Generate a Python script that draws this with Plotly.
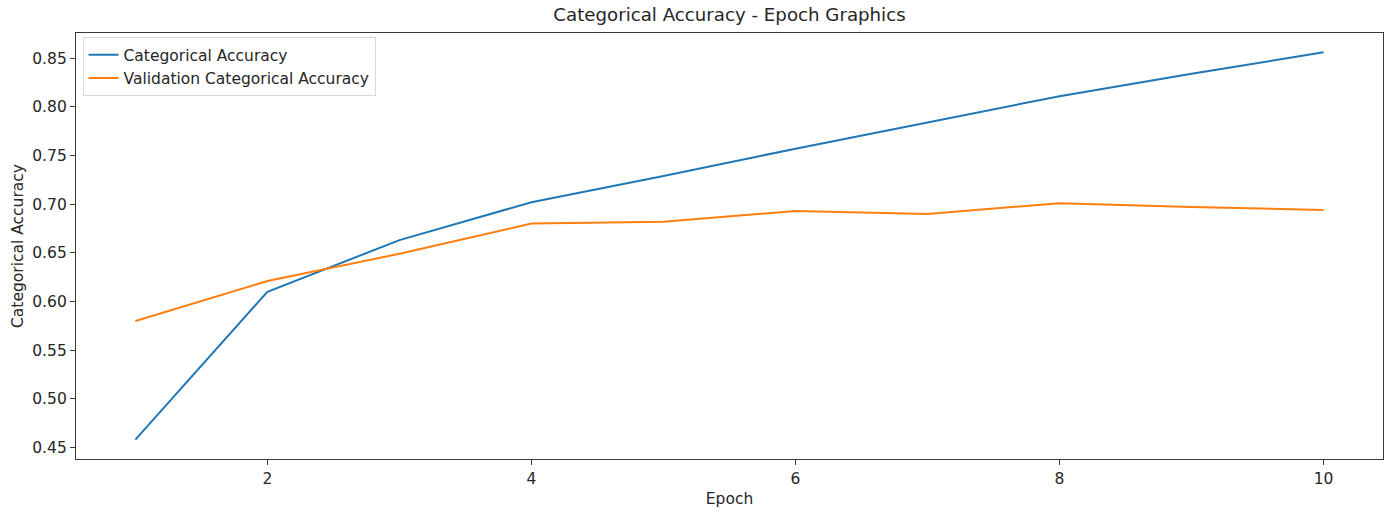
import plotly.graph_objects as go

# Training history per epoch
epochs = [1, 2, 3, 4, 5, 6, 7, 8, 9, 10]
categorical_accuracy = [0.458, 0.610, 0.663, 0.702, 0.729, 0.757, 0.784, 0.811, 0.834, 0.856]
val_categorical_accuracy = [0.580, 0.621, 0.649, 0.680, 0.682, 0.693, 0.690, 0.701, 0.697, 0.694]

x_ticks = [2, 4, 6, 8, 10]
y_ticks = [0.45, 0.50, 0.55, 0.60, 0.65, 0.70, 0.75, 0.80, 0.85]

FONT = "DejaVu Sans"
TEXT = "#262626"
SPINE = "#3a3a3a"
BASE = 15.5

fig = go.Figure()
fig.add_trace(go.Scatter(
    x=epochs, y=categorical_accuracy, mode="lines",
    name="Categorical Accuracy",
    line=dict(color="#1f77b4", width=2),
))
fig.add_trace(go.Scatter(
    x=epochs, y=val_categorical_accuracy, mode="lines",
    name="Validation Categorical Accuracy",
    line=dict(color="#ff7f0e", width=2),
))

# 5% padding around the data, like matplotlib's default margins
all_y = categorical_accuracy + val_categorical_accuracy
y_lo, y_hi = min(all_y), max(all_y)
y_pad = 0.05 * (y_hi - y_lo)
x_pad = 0.05 * (max(epochs) - min(epochs))

fig.update_layout(
    width=1395, height=514,
    margin=dict(l=76, r=12, t=33, b=55),
    paper_bgcolor="white", plot_bgcolor="white",
    font=dict(family=FONT, size=BASE, color=TEXT),
    title=dict(
        text="Categorical Accuracy - Epoch Graphics",
        x=0.5, xref="paper", xanchor="center",
        y=1, yref="container", yanchor="top", pad=dict(t=8),
        font=dict(family=FONT, size=18.2, color=TEXT),
    ),
    showlegend=True,
    legend=dict(
        x=0.005, y=0.99, xanchor="left", yanchor="top",
        bgcolor="rgba(255,255,255,0.8)", bordercolor="#d9d9d9", borderwidth=1,
        font=dict(family=FONT, size=BASE, color=TEXT),
        tracegroupgap=0, itemwidth=30,
    ),
    xaxis=dict(
        range=[min(epochs) - x_pad, max(epochs) + x_pad],
        tickvals=x_ticks, ticktext=[str(v) for v in x_ticks],
        ticks="outside", ticklen=5, tickwidth=1, tickcolor=SPINE,
        tickfont=dict(size=BASE),
        showline=True, linecolor=SPINE, linewidth=1.3, mirror=True,
        showgrid=False, zeroline=False,
        title=dict(text="Epoch", standoff=6, font=dict(family=FONT, size=BASE, color=TEXT)),
        automargin=False,
    ),
    yaxis=dict(
        range=[y_lo - y_pad, y_hi + y_pad],
        tickvals=y_ticks, ticktext=[f"{v:.2f}" for v in y_ticks],
        ticks="outside", ticklen=5, tickwidth=1, tickcolor=SPINE,
        tickfont=dict(size=BASE),
        showline=True, linecolor=SPINE, linewidth=1.3, mirror=True,
        showgrid=False, zeroline=False,
        title=dict(text="Categorical Accuracy", standoff=4, font=dict(family=FONT, size=BASE, color=TEXT)),
        automargin=False,
    ),
)

fig.write_html("out.html")
